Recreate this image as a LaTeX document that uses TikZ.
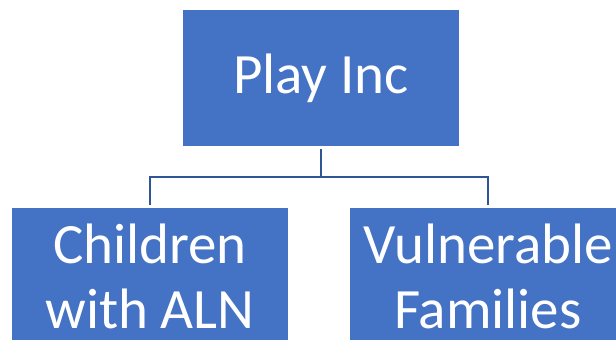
\documentclass[tikz,border=0pt]{standalone}
\usepackage{fontspec}
\setmainfont{Carlito}
\definecolor{boxblue}{HTML}{4472C4}
\definecolor{linkblue}{HTML}{2F5597}
\begin{document}
\begin{tikzpicture}[x=1pt,y=-1pt,
  orgbox/.style={fill=boxblue, draw=none, text=white, minimum width=276pt, minimum height=136pt, inner sep=0pt, align=center, font=\fontsize{57}{65}\selectfont},
  link/.style={draw=linkblue, line width=2pt}]
\useasboundingbox (0,0) rectangle (616,340);
\node[orgbox] (top) at (321,78) {Play Inc};
\node[orgbox] (left) at (150,276) {Children\\with ALN};
\node[orgbox] (right) at (488,276) {Vulnerable\\Families};
\draw[link] ([yshift=-3pt]top.south) -- ++(0,27.5) coordinate (mid);
\draw[link] ([yshift=3pt]left.north) |- (mid) -| ([yshift=3pt]right.north);
\end{tikzpicture}
\end{document}
